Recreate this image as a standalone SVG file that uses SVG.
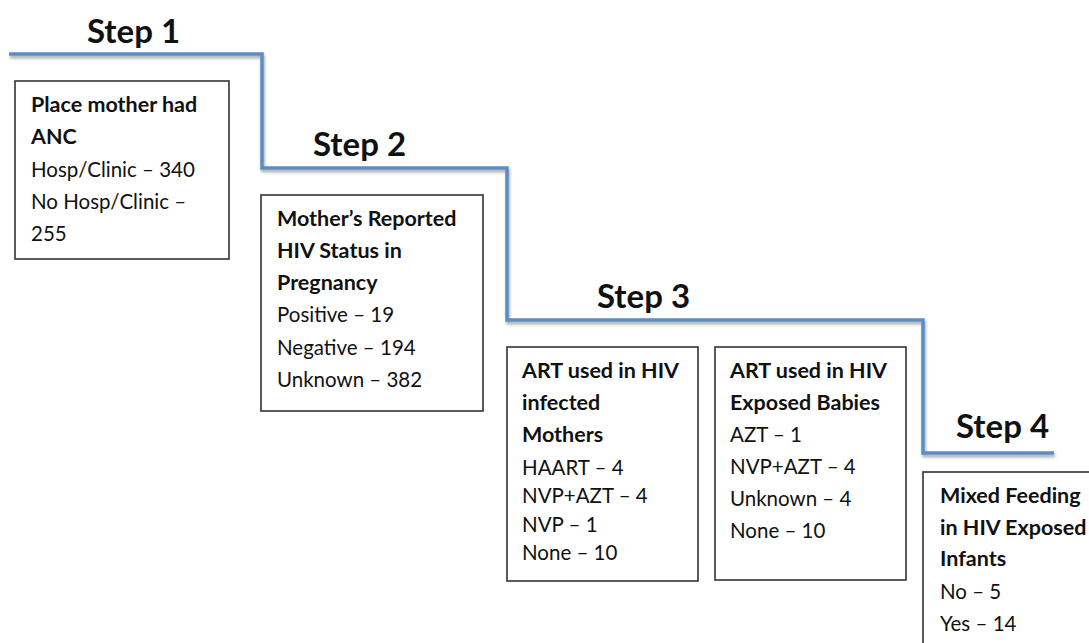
<svg xmlns="http://www.w3.org/2000/svg" width="1089" height="643" viewBox="0 0 1089 643">
<defs>
<filter id="sh" x="-5%" y="-20%" width="110%" height="140%">
<feDropShadow dx="1" dy="2.5" stdDeviation="1.5" flood-color="#000" flood-opacity="0.35"/>
</filter>
</defs>
<style>
text{font-family:Lato,"Open Sans","Liberation Sans",sans-serif;fill:#111;}
.b{font-weight:bold;font-size:21.5px;}
.r{font-size:20.5px;}
.step{font-weight:bold;font-size:33px;}
.box{fill:#fff;stroke:#333;stroke-width:1.6;}
.stair{fill:none;stroke:#5b8cc6;stroke-width:3.5;stroke-linejoin:miter;}
</style>
<rect width="1089" height="643" fill="#fff"/>
<g id="connectors">
<path class="stair" filter="url(#sh)" d="M9,54 H262 V168 H507 V320 H923 V453 H1054"/>
</g>
<g id="step1-label"><text class="step" x="87" y="43">Step 1</text></g>
<g id="step2-label"><text class="step" x="313" y="156">Step 2</text></g>
<g id="step3-label"><text class="step" x="597" y="308">Step 3</text></g>
<g id="step4-label"><text class="step" x="956" y="438">Step 4</text></g>
<g id="node-anc">
<rect class="box" x="15" y="81" width="214" height="178"/>
<text class="b" x="31" y="112">Place mother had</text>
<text class="b" x="31" y="144">ANC</text>
<text class="r" x="31" y="177">Hosp/Clinic – 340</text>
<text class="r" x="31" y="209">No Hosp/Clinic –</text>
<text class="r" x="31" y="241">255</text>
</g>
<g id="node-hiv-status">
<rect class="box" x="261" y="195" width="222" height="216"/>
<text class="b" x="277" y="226">Mother’s Reported</text>
<text class="b" x="277" y="258">HIV Status in</text>
<text class="b" x="277" y="290">Pregnancy</text>
<text class="r" x="277" y="322">Positive – 19</text>
<text class="r" x="277" y="355">Negative – 194</text>
<text class="r" x="277" y="387">Unknown – 382</text>
</g>
<g id="node-art-mothers">
<rect class="box" x="507" y="347" width="191" height="234"/>
<text class="b" x="522" y="378">ART used in HIV</text>
<text class="b" x="522" y="410">infected</text>
<text class="b" x="522" y="442">Mothers</text>
<text class="r" x="522" y="475">HAART – 4</text>
<text class="r" x="522" y="503">NVP+AZT – 4</text>
<text class="r" x="522" y="532">NVP – 1</text>
<text class="r" x="522" y="560">None – 10</text>
</g>
<g id="node-art-babies">
<rect class="box" x="715" y="347" width="191" height="233"/>
<text class="b" x="730" y="378">ART used in HIV</text>
<text class="b" x="730" y="410">Exposed Babies</text>
<text class="r" x="730" y="442">AZT – 1</text>
<text class="r" x="730" y="474">NVP+AZT – 4</text>
<text class="r" x="730" y="506">Unknown – 4</text>
<text class="r" x="730" y="538">None – 10</text>
</g>
<g id="node-mixed-feeding">
<rect class="box" x="923" y="472" width="200" height="200"/>
<text class="b" x="940" y="503">Mixed Feeding</text>
<text class="b" x="940" y="535">in HIV Exposed</text>
<text class="b" x="940" y="566">Infants</text>
<text class="r" x="940" y="599">No – 5</text>
<text class="r" x="940" y="631">Yes – 14</text>
</g>
</svg>
